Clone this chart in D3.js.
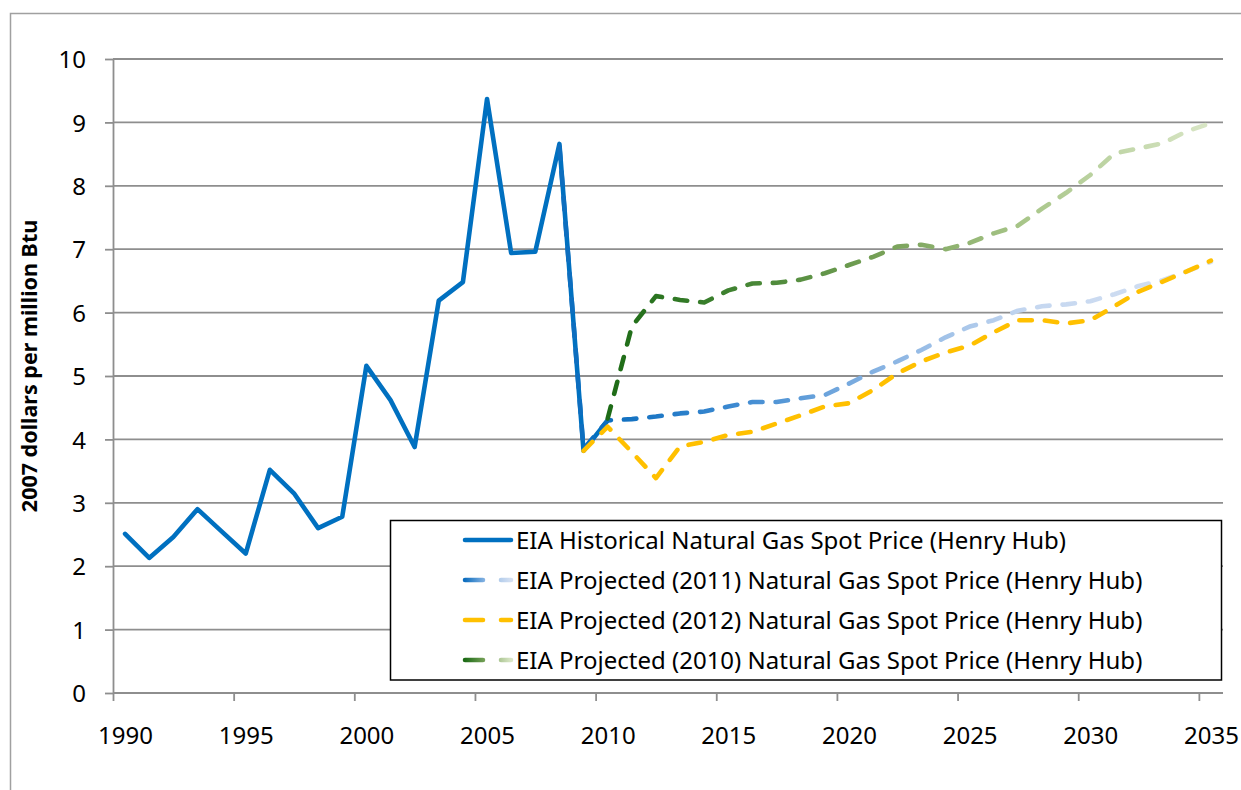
<!DOCTYPE html>
<html>
<head>
<meta charset="utf-8">
<script src="https://cdn.jsdelivr.net/npm/d3@7"></script>
<style>
  body { margin: 0; background: #fff; }
  svg { display: block; font-family: "Noto Sans", "Open Sans", sans-serif; }
</style>
</head>
<body>
<svg id="chart" width="1241" height="790"></svg>
<script>
// categories: one per year on the x axis
const years = d3.range(1990, 2036);
const xTickYears = [1990, 1995, 2000, 2005, 2010, 2015, 2020, 2025, 2030, 2035];
const yTicks = [0, 1, 2, 3, 4, 5, 6, 7, 8, 9, 10];

// EIA historical, 1990-2010
const histStart = 1990;
const histValues = [2.51, 2.13, 2.46, 2.90, 2.55, 2.20, 3.52, 3.15, 2.60, 2.78,
                    5.16, 4.62, 3.88, 6.19, 6.48, 9.37, 6.94, 6.96, 8.66, 3.82, 4.30];

// EIA projected (2011), 2008-2035
const proj2011Start = 2008;
const proj2011Values = [8.62, 3.85, 4.30, 4.32, 4.36, 4.41, 4.44, 4.52, 4.59, 4.59,
                        4.65, 4.70, 4.88, 5.07, 5.23, 5.41, 5.61, 5.78, 5.88, 6.03,
                        6.10, 6.13, 6.18, 6.29, 6.42, 6.51, 6.65, 6.80];

// EIA projected (2012), 2009-2035
const proj2012Start = 2009;
const proj2012Values = [3.82, 4.20, 3.80, 3.39, 3.89, 3.96, 4.07, 4.12, 4.25, 4.38,
                        4.52, 4.57, 4.78, 5.04, 5.23, 5.37, 5.48, 5.69, 5.88, 5.88,
                        5.83, 5.88, 6.10, 6.33, 6.49, 6.65, 6.82];

// EIA projected (2010), 2010-2035
const proj2010Start = 2010;
const proj2010Values = [4.33, 5.78, 6.26, 6.20, 6.16, 6.35, 6.46, 6.47, 6.52, 6.62,
                        6.75, 6.88, 7.04, 7.07, 7.00, 7.10, 7.25, 7.37, 7.64, 7.89,
                        8.17, 8.51, 8.59, 8.67, 8.86, 8.99];

const seriesNames = [
  "EIA Historical Natural Gas Spot Price (Henry Hub)",
  "EIA Projected (2011) Natural Gas Spot Price (Henry Hub)",
  "EIA Projected (2012) Natural Gas Spot Price (Henry Hub)",
  "EIA Projected (2010) Natural Gas Spot Price (Henry Hub)"
];

const yTitle = "2007 dollars per million Btu";

function toPoints(start, values) {
  return values.map((v, i) => ({ year: start + i, value: v }));
}

const svg = d3.select("#chart");
const W = 1241, H = 790;

// plot area
const area = { left: 113, right: 1223, top: 59, bottom: 693 };
const gridColor = "#8e8e8e";

// outer chart border
svg.append("rect")
  .attr("x", 10.5).attr("y", 13.5)
  .attr("width", W + 20).attr("height", H + 20)
  .attr("fill", "#fff")
  .attr("stroke", "#a0a0a0")
  .attr("stroke-width", 1.5);

// scales
const x = d3.scaleBand().domain(years).range([area.left, area.right]).padding(0);
const xEdge = d3.scaleLinear()
  .domain([years[0], years[years.length - 1] + 1])
  .range([area.left, area.right]);
const y = d3.scaleLinear().domain([0, 10]).range([area.bottom, area.top]);
const xc = yr => x(yr) + x.bandwidth() / 2;

// gradients for the fading projections
const defs = svg.append("defs");
function addGradient(id, x1, x2, stops) {
  const g = defs.append("linearGradient")
    .attr("id", id)
    .attr("gradientUnits", "userSpaceOnUse")
    .attr("x1", x1).attr("x2", x2).attr("y1", 0).attr("y2", 0);
  stops.forEach(s => g.append("stop").attr("offset", s[0]).attr("stop-color", s[1]));
}
const blueStops = [[0, "#0d6ebf"], [0.2, "#3a88d0"], [0.45, "#86b2e2"], [0.7, "#c5d7f0"], [1, "#d4e0f2"]];
const greenStops = [[0, "#1d6b16"], [0.2, "#3f8230"], [0.45, "#76a057"], [0.7, "#aac78b"], [1, "#d9e6c6"]];
addGradient("grad2011", xc(2010), xc(2035), blueStops);
addGradient("grad2010", xc(2010), xc(2035), greenStops);

// horizontal gridlines
svg.append("g")
  .selectAll("line")
  .data(yTicks.filter(d => d > 0))
  .join("line")
  .attr("x1", area.left).attr("x2", area.right)
  .attr("y1", d => y(d)).attr("y2", d => y(d))
  .attr("stroke", gridColor)
  .attr("stroke-width", 1.8);

// y axis
const gy = svg.append("g")
  .attr("transform", `translate(${area.left},0)`)
  .call(d3.axisLeft(y).tickValues(yTicks).tickSize(8).tickSizeOuter(0).tickPadding(19));
gy.selectAll("path, line").attr("stroke", gridColor).attr("stroke-width", 1.8);
gy.selectAll("text")
  .attr("fill", "#000")
  .style("font-size", "24px")
  .style("font-family", "'Noto Sans', sans-serif")
  .attr("dy", "0.36em");

// x axis: ticks sit between categories, labels centred on category
const gx = svg.append("g")
  .attr("transform", `translate(0,${area.bottom})`)
  .call(d3.axisBottom(xEdge).tickValues(xTickYears).tickFormat(d3.format("d"))
    .tickSize(8).tickSizeOuter(0).tickPadding(26));
gx.select(".domain").attr("d", `M${area.left},0H${area.right}`);
gx.selectAll("path, line").attr("stroke", gridColor).attr("stroke-width", 1.8);
gx.selectAll("text")
  .attr("fill", "#000")
  .attr("dx", x.bandwidth() / 2)
  .style("font-size", "24px")
  .style("font-family", "'Noto Sans', sans-serif");

// y axis title
svg.append("text")
  .attr("transform", `translate(37,366) rotate(-90)`)
  .attr("text-anchor", "middle")
  .style("font-size", "21.5px")
  .style("font-weight", "bold")
  .text(yTitle);

// lines
const line = d3.line().x(d => xc(d.year)).y(d => y(d.value));
const dash = "12.5,13";

const series = [
  { name: seriesNames[0], pts: toPoints(histStart, histValues), stroke: "#0070c0", dash: null },
  { name: seriesNames[1], pts: toPoints(proj2011Start, proj2011Values), stroke: "url(#grad2011)", dash: dash },
  { name: seriesNames[2], pts: toPoints(proj2012Start, proj2012Values), stroke: "#ffc000", dash: dash },
  { name: seriesNames[3], pts: toPoints(proj2010Start, proj2010Values), stroke: "url(#grad2010)", dash: dash }
];

svg.append("g")
  .selectAll("path")
  .data(series)
  .join("path")
  .attr("d", d => line(d.pts))
  .attr("fill", "none")
  .attr("stroke", d => d.stroke)
  .attr("stroke-width", 4.6)
  .attr("stroke-linejoin", "round")
  .attr("stroke-linecap", "round")
  .attr("stroke-dasharray", d => d.dash);

// legend
const leg = { x: 390.5, y: 520.5, w: 831, h: 159.5, rowY0: 540, rowGap: 40, sx1: 465, sx2: 511, tx: 516 };
svg.append("rect")
  .attr("x", leg.x).attr("y", leg.y)
  .attr("width", leg.w).attr("height", leg.h)
  .attr("fill", "#fff")
  .attr("stroke", "#000")
  .attr("stroke-width", 1.5);

addGradient("legBlue", leg.sx1, leg.sx2, [[0, "#0d6ebf"], [0.45, "#8cb6e4"], [1, "#d4e0f2"]]);
addGradient("legGreen", leg.sx1, leg.sx2, [[0, "#1d6b16"], [0.45, "#7aa35b"], [1, "#d9e6c6"]]);
const legStroke = ["#0070c0", "url(#legBlue)", "#ffc000", "url(#legGreen)"];

const rows = svg.append("g")
  .selectAll("g")
  .data(series)
  .join("g")
  .attr("transform", (d, i) => `translate(0,${leg.rowY0 + i * leg.rowGap})`);

rows.append("line")
  .attr("x1", leg.sx1).attr("x2", leg.sx2)
  .attr("y1", 0).attr("y2", 0.01)
  .attr("stroke", (d, i) => legStroke[i])
  .attr("stroke-width", 4.6)
  .attr("stroke-linecap", "round")
  .attr("stroke-dasharray", d => d.dash ? "18,18" : null);

rows.append("text")
  .attr("x", leg.tx)
  .attr("dy", "0.36em")
  .style("font-size", "24px")
  .text(d => d.name);
</script>
</body>
</html>
